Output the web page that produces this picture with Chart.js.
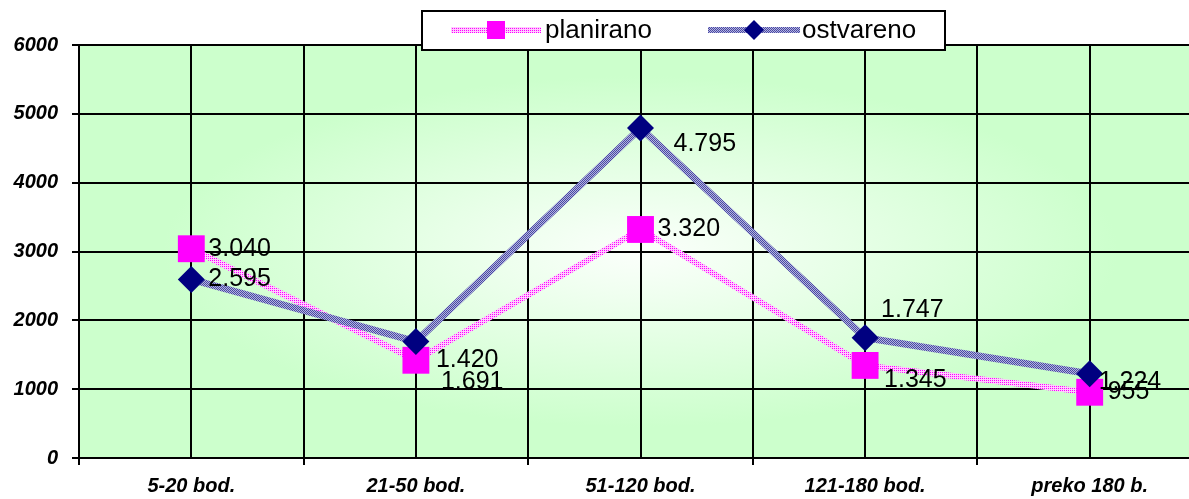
<!DOCTYPE html>
<html>
<head>
<meta charset="utf-8">
<script src="https://cdn.jsdelivr.net/npm/chart.js@4.4.1/dist/chart.umd.min.js"></script>
<style>
  body { margin: 0; background: #fff; overflow: hidden; }
  #wrap { position: absolute; left: 0; top: 0; width: 1211px; height: 499px; }
</style>
</head>
<body>
<div id="wrap"><canvas id="chart" width="1211" height="499"></canvas></div>
<script>
// data
const categories = ['5-20 bod.', '21-50 bod.', '51-120 bod.', '121-180 bod.', 'preko 180 b.'];
const planirano = [3040, 1420, 3320, 1345, 955];
const ostvareno = [2595, 1691, 4795, 1747, 1224];
const yTicks = [0, 1000, 2000, 3000, 4000, 5000, 6000];

// where each value label sits relative to its point (px)
const labelShift = [
    [[17, 0], [20, 0], [17, 0], [19, 15], [18, 0]],
    [[17, 0], [25, 41], [33, 16], [16, -28], [9, 8]]
];

const FONT = "'Liberation Sans', Arial, sans-serif";

// thousands separator with a dot, like 3.040
function fmt(v) {
    return String(v).replace(/\B(?=(\d{3})+(?!\d))/g, '.');
}

// small dotted patterns so the lines look like the old hatched ones
function makePattern(dot, base, full) {
    const p = document.createElement('canvas');
    p.width = 2; p.height = 2;
    const pc = p.getContext('2d');
    pc.fillStyle = base; pc.fillRect(0, 0, 2, 2);
    pc.fillStyle = dot; pc.fillRect(0, 0, 1, 1);
    if (full) pc.fillRect(1, 1, 1, 1);
    return document.getElementById('chart').getContext('2d').createPattern(p, 'repeat');
}
const pinkLine = makePattern('#ff00ff', '#ffccff', false);
const blueLine = makePattern('#4848a4', '#b4b4de', true);

const decor = {
    id: 'decor',
    beforeDraw(chart) {
        const a = chart.chartArea;
        const ctx = chart.ctx;
        const cx = (a.left + a.right) / 2, cy = (a.top + a.bottom) / 2;
        const rx = (a.right - a.left) / 2, ry = (a.bottom - a.top) / 2;
        ctx.save();
        ctx.beginPath();
        ctx.rect(a.left, a.top, a.right - a.left, a.bottom - a.top);
        ctx.clip();
        ctx.translate(cx, cy);
        ctx.scale(1, ry / rx);
        const g = ctx.createRadialGradient(0, 0, 0, 0, 0, rx);
        g.addColorStop(0, '#fbfffb');
        g.addColorStop(0.15, '#f3fff3');
        g.addColorStop(0.85, '#ccffcc');
        g.addColorStop(1, '#ccffcc');
        ctx.fillStyle = g;
        ctx.fillRect(-rx * 1.5, -rx * 1.5, rx * 3, rx * 3);
        ctx.restore();
    },
    afterDatasetsDraw(chart) {
        const ctx = chart.ctx;
        ctx.save();
        ctx.font = '25px ' + FONT;
        ctx.fillStyle = '#000';
        ctx.textAlign = 'left';
        ctx.textBaseline = 'middle';
        chart.data.datasets.forEach((ds, di) => {
            const meta = chart.getDatasetMeta(di);
            meta.data.forEach((pt, i) => {
                const s = labelShift[di][i];
                ctx.fillText(fmt(ds.data[i].y), pt.x + s[0], pt.y + s[1]);
            });
        });
        ctx.restore();
    },
    afterDraw(chart) {
        const ctx = chart.ctx;
        ctx.save();
        // legend box
        ctx.fillStyle = '#fff';
        ctx.fillRect(422, 11, 523, 39);
        ctx.strokeStyle = '#000';
        ctx.lineWidth = 2;
        ctx.strokeRect(422, 11, 523, 39);

        ctx.lineWidth = 6;
        ctx.strokeStyle = pinkLine;
        ctx.beginPath(); ctx.moveTo(451, 30); ctx.lineTo(541, 30); ctx.stroke();
        ctx.fillStyle = '#ff00ff';
        ctx.fillRect(487, 21, 18, 18);

        ctx.strokeStyle = blueLine;
        ctx.beginPath(); ctx.moveTo(708, 30); ctx.lineTo(800, 30); ctx.stroke();
        ctx.fillStyle = '#000080';
        ctx.beginPath();
        ctx.moveTo(754, 20); ctx.lineTo(764, 30); ctx.lineTo(754, 40); ctx.lineTo(744, 30);
        ctx.closePath(); ctx.fill();

        ctx.fillStyle = '#000';
        ctx.font = '26px ' + FONT;
        ctx.textBaseline = 'middle';
        ctx.fillText(chart.data.datasets[0].label, 545, 31);
        ctx.fillText(chart.data.datasets[1].label, 802, 31);
        ctx.restore();
    }
};

const tickFont = { family: FONT, size: 20, weight: 'bold', style: 'italic' };

new Chart(document.getElementById('chart'), {
    type: 'line',
    data: {
        datasets: [{
            label: 'planirano',
            data: planirano.map((v, i) => ({ x: i, y: v })),
            borderColor: pinkLine,
            borderWidth: 6,
            pointStyle: 'rect',
            pointRadius: 19,
            pointBackgroundColor: '#ff00ff',
            pointBorderColor: '#ff00ff',
            pointBorderWidth: 0,
            tension: 0,
            order: 1
        }, {
            label: 'ostvareno',
            data: ostvareno.map((v, i) => ({ x: i, y: v })),
            borderColor: blueLine,
            borderWidth: 7,
            pointStyle: 'rectRot',
            pointRadius: 13.5,
            pointBackgroundColor: '#000080',
            pointBorderColor: '#000080',
            pointBorderWidth: 0,
            tension: 0,
            order: 0
        }]
    },
    options: {
        responsive: false,
        animation: false,
        devicePixelRatio: 1,
        layout: { autoPadding: false, padding: { top: 45, right: 0, left: 0, bottom: 0 } },
        plugins: {
            legend: { display: false },
            tooltip: { enabled: false }
        },
        scales: {
            x: {
                type: 'linear',
                min: -0.5,
                max: 4.5,
                afterBuildTicks: s => {
                    const t = [];
                    for (let i = 0; i <= 10; i++) t.push({ value: -0.5 + i * 0.5 });
                    s.ticks = t;
                },
                afterFit: s => { s.height = 41; },
                ticks: {
                    autoSkip: false,
                    maxRotation: 0,
                    padding: 9,
                    color: '#000',
                    font: tickFont,
                    callback: v => Number.isInteger(v) ? categories[v] : ''
                },
                grid: {
                    color: '#000',
                    lineWidth: 2,
                    tickLength: 7,
                    tickColor: c => (c.tick && Number.isInteger(c.tick.value)) ? 'rgba(0,0,0,0)' : '#000'
                },
                border: { color: '#000', width: 2 }
            },
            y: {
                min: 0,
                max: 6000,
                afterBuildTicks: s => { s.ticks = yTicks.map(v => ({ value: v })); },
                afterFit: s => { s.width = 79; },
                ticks: { padding: 14, color: '#000', font: tickFont, callback: v => String(v) },
                grid: { color: '#000', lineWidth: 2, tickLength: 7 },
                border: { color: '#000', width: 2 }
            }
        }
    },
    plugins: [decor]
});
</script>
</body>
</html>
